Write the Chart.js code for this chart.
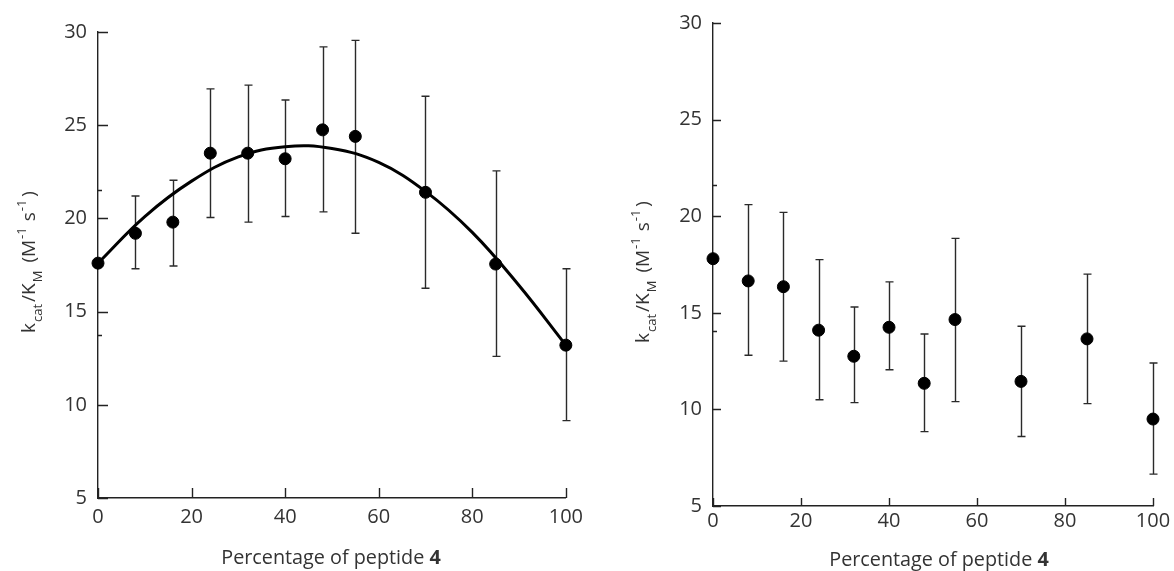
<!DOCTYPE html>
<html>
<head>
<meta charset="utf-8">
<script src="https://cdn.jsdelivr.net/npm/chart.js@4.4.1/dist/chart.umd.min.js"></script>
<style>
  html, body { margin: 0; padding: 0; background: #fff; }
  #wrap { position: relative; width: 1174px; height: 571px; overflow: hidden; }
  canvas { position: absolute; top: 0; }
</style>
</head>
<body>
<div id="wrap">
  <canvas id="left" width="590" height="571" style="left:0"></canvas>
  <canvas id="right" width="584" height="571" style="left:590px"></canvas>
</div>
<script>
// Left panel: measured rates with error bars and the fitted trend
const percentLeft   = [0, 8, 16, 24, 32, 40, 48, 55, 70, 85, 100];
const rateLeft      = [17.6, 19.2, 19.8, 23.5, 23.5, 23.2, 24.75, 24.4, 21.4, 17.55, 13.2];
const rateLeftLow   = [null, 17.3, 17.45, 20.05, 19.8, 20.1, 20.35, 19.2, 16.25, 12.6, 9.15];
const rateLeftHigh  = [null, 21.2, 22.05, 26.95, 27.15, 26.35, 29.2, 29.55, 26.55, 22.55, 17.3];
const fitPercent    = [0, 10, 20, 30, 40, 50, 60, 70, 80, 90, 100];
const fitRate       = [17.6, 20.1, 22.0, 23.3, 23.85, 23.75, 23.0, 21.45, 19.25, 16.4, 13.2];

// Right panel: measured rates with error bars
const percentRight  = [0, 8, 16, 24, 32, 40, 48, 55, 70, 85, 100];
const rateRight     = [17.8, 16.65, 16.35, 14.1, 12.75, 14.25, 11.35, 14.65, 11.45, 13.65, 9.5];
const rateRightLow  = [null, 12.8, 12.5, 10.5, 10.35, 12.05, 8.85, 10.4, 8.6, 10.3, 6.65];
const rateRightHigh = [null, 20.6, 20.2, 17.75, 15.3, 16.6, 13.9, 18.85, 14.3, 17.0, 12.4];

// Axis ranges and the small extra marks on the vertical axes
const xTicks = [0, 20, 40, 60, 80, 100];
const yTicks = [5, 10, 15, 20, 25, 30];
const minorLeft  = [21.5, 13.75];
const minorRight = [21.6, 14.05];

const TEXT = '#333333';
const FONT = '"Open Sans", Lato, sans-serif';

function pts(xs, ys) { return xs.map((x, i) => ({ x: x, y: ys[i] })); }

// Error bars, inward tick marks and rich-text axis titles
const decorations = {
  id: 'decorations',
  beforeDatasetsDraw(chart, args, o) {
    const ctx = chart.ctx, xs = chart.scales.x, ys = chart.scales.y;
    ctx.save();
    ctx.strokeStyle = '#2a2a2a';
    ctx.lineWidth = 1.4;
    o.xs.forEach((xv, i) => {
      if (o.low[i] == null) return;
      const px = Math.round(xs.getPixelForValue(xv)) + 0.5;
      const p1 = ys.getPixelForValue(o.low[i]);
      const p2 = ys.getPixelForValue(o.high[i]);
      ctx.beginPath();
      ctx.moveTo(px, p1); ctx.lineTo(px, p2);
      ctx.moveTo(px - o.cap, p1); ctx.lineTo(px + o.cap, p1);
      ctx.moveTo(px - o.cap, p2); ctx.lineTo(px + o.cap, p2);
      ctx.stroke();
    });
    ctx.restore();
  },
  afterDraw(chart, args, o) {
    const ctx = chart.ctx, xs = chart.scales.x, ys = chart.scales.y;
    const a = chart.chartArea;
    ctx.save();
    ctx.strokeStyle = '#222';
    ctx.lineWidth = 1.4;
    ctx.beginPath();
    yTicks.forEach(v => {
      const py = Math.round(ys.getPixelForValue(v)) + 0.5;
      ctx.moveTo(a.left, py); ctx.lineTo(a.left + o.tickLen, py);
    });
    o.minor.forEach(v => {
      const py = Math.round(ys.getPixelForValue(v)) + 0.5;
      ctx.moveTo(a.left, py); ctx.lineTo(a.left + 4, py);
    });
    xTicks.forEach(v => {
      const px = Math.round(xs.getPixelForValue(v)) + 0.5;
      ctx.moveTo(px, a.bottom); ctx.lineTo(px, a.bottom - o.tickLen);
    });
    ctx.stroke();

    // horizontal axis title with bold compound number
    ctx.fillStyle = TEXT;
    ctx.textBaseline = 'alphabetic';
    const fNorm = '19.8px ' + FONT, fBold = 'bold 19.8px ' + FONT;
    const t1 = 'Percentage of peptide ', t2 = '4';
    ctx.font = fNorm; const w1 = ctx.measureText(t1).width;
    ctx.font = fBold; const w2 = ctx.measureText(t2).width;
    let x0 = o.xTitleX - (w1 + w2) / 2;
    ctx.font = fNorm; ctx.fillText(t1, x0, o.xTitleY);
    ctx.font = fBold; ctx.fillText(t2, x0 + w1, o.xTitleY);

    // vertical axis title: k_cat/K_M (M^-1 s^-1), each piece followed by its gap
    const parts = [
      ['k', 0, 1], ['cat', -1, 2], ['/K', 0, 1], ['M', -1, 8], ['(M', 0, 1], ['-1', 1, 6], ['s', 0, 1], ['-1', 1, 3], [')', 0, 0]
    ];
    const big = '19px ' + FONT, small = '13px ' + FONT;
    let total = 0;
    parts.forEach(p => { ctx.font = p[1] === 0 ? big : small; p.push(ctx.measureText(p[0]).width); total += p[3] + p[2]; });
    ctx.translate(o.yTitleX, o.yTitleY);
    ctx.rotate(-Math.PI / 2);
    let cx = -total / 2;
    parts.forEach(p => {
      ctx.font = p[1] === 0 ? big : small;
      const dy = p[1] === -1 ? 7 : (p[1] === 1 ? -9 : 0);
      ctx.fillText(p[0], cx, dy);
      cx += p[3] + p[2];
    });
    ctx.restore();
  }
};

function makeChart(id, cfg) {
  const datasets = [{
    data: pts(cfg.xs, cfg.ys),
    backgroundColor: '#000',
    borderColor: '#000',
    pointRadius: 6,
    pointHoverRadius: 6,
    showLine: false,
    clip: false
  }];
  if (cfg.fitX) {
    datasets.push({
      data: pts(cfg.fitX, cfg.fitY),
      borderColor: '#000',
      borderWidth: 3,
      pointRadius: 0,
      showLine: true,
      tension: 0.4,
      clip: false
    });
  }
  return new Chart(document.getElementById(id), {
    type: 'scatter',
    data: { datasets: datasets },
    options: {
      responsive: false,
      animation: false,
      devicePixelRatio: 1,
      layout: { padding: { top: cfg.top, right: cfg.right, left: 0, bottom: 0 } },
      plugins: {
        legend: { display: false },
        tooltip: { enabled: false },
        decorations: {
          xs: cfg.xs, low: cfg.low, high: cfg.high, cap: 4,
          tickLen: cfg.tickLen, minor: cfg.minor,
          xTitleX: cfg.xTitleX, xTitleY: cfg.xTitleY,
          yTitleX: cfg.yTitleX, yTitleY: cfg.yTitleY
        }
      },
      scales: {
        x: {
          type: 'linear', min: 0, max: 100,
          afterFit: s => { s.height = cfg.xAxisH; },
          afterBuildTicks: s => { s.ticks = xTicks.map(v => ({ value: v })); },
          grid: { display: false, drawTicks: false },
          border: { display: true, color: '#222', width: 1.4 },
          ticks: { color: TEXT, font: { family: FONT, size: 20 }, padding: cfg.xPad, maxRotation: 0 }
        },
        y: {
          type: 'linear', min: 5, max: 30,
          afterFit: s => { s.width = cfg.yAxisW; },
          afterBuildTicks: s => { s.ticks = yTicks.map(v => ({ value: v })); },
          grid: { display: false, drawTicks: false },
          border: { display: true, color: '#222', width: 1.4 },
          ticks: { color: TEXT, font: { family: FONT, size: 20 }, padding: cfg.yPad }
        }
      }
    },
    plugins: [decorations]
  });
}

makeChart('left', {
  xs: percentLeft, ys: rateLeft, low: rateLeftLow, high: rateLeftHigh,
  fitX: fitPercent, fitY: fitRate, minor: minorLeft,
  top: 32, right: 24, yAxisW: 98, xAxisH: 73, tickLen: 10,
  xPad: 7, yPad: 11,
  xTitleX: 331, xTitleY: 564, yTitleX: 35, yTitleY: 262
});

makeChart('right', {
  xs: percentRight, ys: rateRight, low: rateRightLow, high: rateRightHigh,
  minor: minorRight,
  top: 23, right: 21, yAxisW: 123, xAxisH: 65, tickLen: 8,
  xPad: 3, yPad: 11,
  xTitleX: 349, xTitleY: 566, yTitleX: 59, yTitleY: 272
});
</script>
</body>
</html>
